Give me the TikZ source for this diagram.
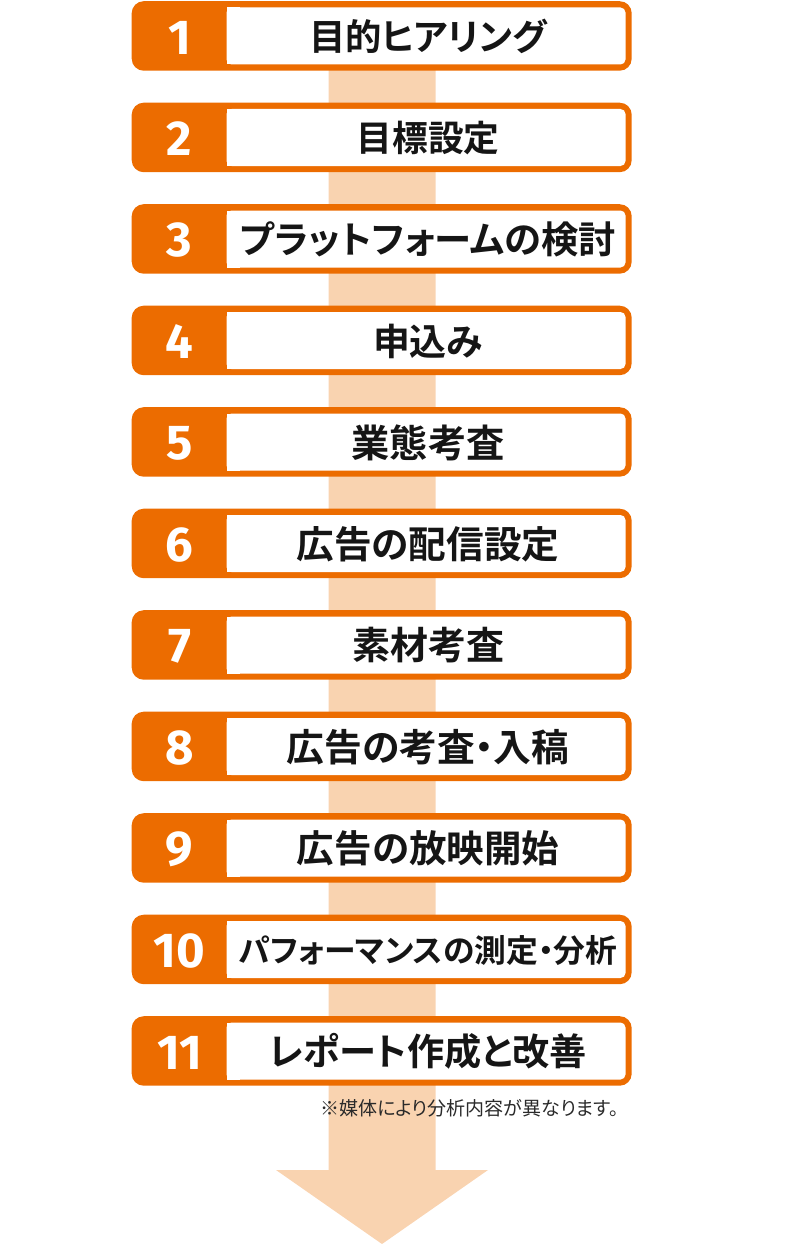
\documentclass[tikz,border=0pt]{standalone}
\usepackage{fontspec}
\usepackage{graphicx}
\newfontfamily\jpb{Noto Sans CJK JP Bold}[RawFeature={+palt}]
\newfontfamily\jpr{Noto Sans CJK JP}[RawFeature={+palt}]
\newfontfamily\numf{Fira Sans Bold}
\definecolor{orng}{HTML}{EC6C00}
\definecolor{peach}{HTML}{F9D3B0}
\definecolor{txt}{HTML}{151515}
\definecolor{notegray}{HTML}{2A2A2A}
\begin{document}
\begin{tikzpicture}[x=1pt,y=-1pt,
  boxouter/.style={fill=orng, rounded corners=12pt, minimum width=500pt, minimum height=69.5pt, anchor=north west, inner sep=0pt},
  numlabel/.style={font=\numf\fontsize{49}{49}\selectfont, text=white, anchor=center, inner sep=0pt},
  steplabel/.style={font=\jpb\fontsize{38}{38}\selectfont, text=txt, anchor=center, inner sep=0pt},
  notelabel/.style={font=\jpr\fontsize{20}{20}\selectfont, text=notegray, anchor=center, inner sep=0pt}
]
\useasboundingbox (0,0) rectangle (800,1244);
% big background arrow
\coordinate (atip) at (382,1244);
\fill[peach] (328.5,60) -- (435.5,60) -- (435.5,1170) -- (488,1170) -- (atip) -- (276,1170) -- (328.5,1170) -- cycle;
% steps
\foreach \i/\num/\txt/\W in {
  1/1/目的ヒアリング/238,
  2/2/目標設定/143,
  3/3/プラットフォームの検討/376,
  4/4/申込み/110,
  5/5/業態考査/153,
  6/6/広告の配信設定/263,
  7/7/素材考査/152,
  8/8/広告の考査・入稿/283,
  9/9/広告の放映開始/262,
  10/10/パフォーマンスの測定・分析/379,
  11/11/レポート作成と改善/318}{
  \pgfmathsetmacro\T{1+(\i-1)*101.5}
  \node[boxouter] (box\i) at (131.5,\T) {};
  \fill[white, rounded corners=5pt] (226.5,\T+6.5) rectangle (625.5,\T+63.5);
  \fill[white] (226.5,\T+6.5) rectangle (240,\T+63.5);
  \node[numlabel] (n\i) at (179.5,\T+36.5) {\num};
  \node[steplabel] (l\i) at (428,\T+35.5) {\resizebox{\W pt}{!}{\txt}};
}
\node[notelabel] (note) at (469.5,1108.5) {\resizebox{298pt}{!}{※媒体により分析内容が異なります。}};
\end{tikzpicture}
\end{document}
